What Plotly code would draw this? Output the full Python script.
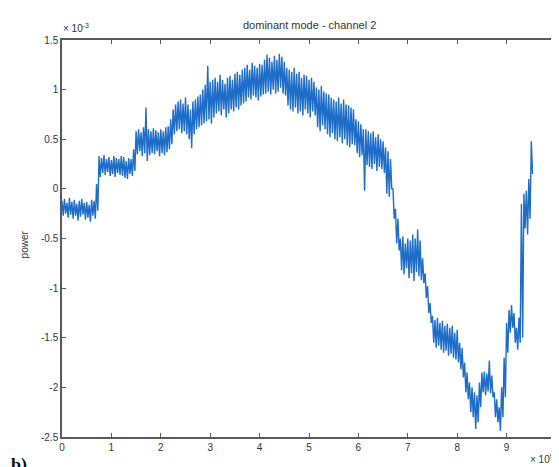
import numpy as np
import plotly.graph_objects as go

# Noise envelope every 0.05 (x10^5); power in units of 1e-3
x_step = 0.05
upper_values = [
    # 0.00 - 0.70
    -0.12, -0.10, -0.14, -0.09, -0.13, -0.11, -0.15, -0.12, -0.10, -0.14, -0.13, -0.16, -0.11, -0.12, 0.05,
    # 0.75 - 1.45
    0.33, 0.31, 0.34, 0.30, 0.32, 0.29, 0.33, 0.31, 0.30, 0.33, 0.32, 0.28, 0.31, 0.30, 0.40,
    # 1.50 - 2.20
    0.58, 0.60, 0.57, 0.62, 0.82, 0.60, 0.58, 0.61, 0.59, 0.57, 0.60, 0.58, 0.62, 0.63, 0.70,
    # 2.25 - 3.00
    0.80, 0.85, 0.88, 0.90, 0.86, 0.92, 0.85, 0.80, 0.88, 0.90, 0.93, 0.95, 1.00, 1.05, 1.24, 1.08,
    # 3.05 - 3.65
    1.10, 1.12, 1.08, 1.15, 1.10, 1.06, 1.12, 1.14, 1.10, 1.16, 1.18, 1.15, 1.20,
    # 3.70 - 4.05
    1.22, 1.25, 1.20, 1.27, 1.24, 1.22, 1.26, 1.25,
    # 4.10 - 4.50
    1.30, 1.35, 1.32, 1.28, 1.34, 1.30, 1.36, 1.33, 1.28,
    # 4.55 - 5.10
    1.22, 1.20, 1.18, 1.22, 1.16, 1.18, 1.12, 1.15, 1.14, 1.10, 1.12, 1.08,
    # 5.15 - 5.45
    1.02, 1.00, 1.04, 0.98, 0.96, 0.95, 0.92,
    # 5.50 - 5.90
    0.90, 0.88, 0.92, 0.86, 0.90, 0.85, 0.84, 0.82, 0.80,
    # 5.95 - 6.10
    0.70, 0.68, 0.65, 0.60,
    # 6.15 - 6.50
    0.60, 0.58, 0.56, 0.58, 0.52, 0.55, 0.50, 0.48,
    # 6.55 - 6.65
    0.42, 0.38, 0.30,
    # 6.70 - 6.80
    0.00, -0.20, -0.30,
    # 6.85 - 7.25
    -0.50, -0.48, -0.55, -0.50, -0.52, -0.46, -0.50, -0.41, -0.52,
    # 7.30 - 7.45
    -0.70, -0.85, -0.98, -1.15,
    # 7.50 - 8.05
    -1.28, -1.32, -1.30, -1.35, -1.33, -1.38, -1.36, -1.40, -1.38, -1.45, -1.42, -1.55,
    # 8.10 - 8.45
    -1.60, -1.75, -1.85, -1.95, -2.00, -2.05, -2.08, -1.95,
    # 8.50 - 8.70
    -1.85, -1.84, -1.86, -1.73, -1.88,
    # 8.75 - 8.90
    -2.05, -2.12, -2.20, -2.00,
    # 8.95 - 9.25
    -1.70, -1.35, -1.22, -1.17, -1.25, -1.40, -1.30,
    # 9.30 - 9.50
    -0.15, -0.05, -0.02, 0.10, 0.48,
]
lower_values = [
    # 0.00 - 0.70
    -0.27, -0.25, -0.29, -0.26, -0.30, -0.27, -0.32, -0.28, -0.26, -0.31, -0.29, -0.33, -0.27, -0.30, -0.22,
    # 0.75 - 1.45
    0.12, 0.16, 0.14, 0.17, 0.13, 0.15, 0.12, 0.16, 0.14, 0.13, 0.11, 0.10, 0.15, 0.13, 0.18,
    # 1.50 - 2.20
    0.35, 0.38, 0.33, 0.36, 0.28, 0.34, 0.36, 0.35, 0.38, 0.33, 0.36, 0.34, 0.37, 0.40, 0.45,
    # 2.25 - 3.00
    0.55, 0.58, 0.60, 0.56, 0.58, 0.55, 0.50, 0.41, 0.55, 0.60, 0.62, 0.64, 0.66, 0.68, 0.70, 0.66,
    # 3.05 - 3.65
    0.72, 0.76, 0.78, 0.74, 0.80, 0.72, 0.76, 0.80, 0.78, 0.82, 0.80, 0.84, 0.86,
    # 3.70 - 4.05
    0.88, 0.92, 0.90, 0.94, 0.92, 0.89, 0.93, 0.95,
    # 4.10 - 4.50
    0.96, 0.98, 0.95, 1.00, 0.96, 0.98, 1.02, 0.96, 0.94,
    # 4.55 - 5.10
    0.84, 0.80, 0.78, 0.82, 0.76, 0.78, 0.74, 0.80, 0.76, 0.72, 0.78, 0.74,
    # 5.15 - 5.45
    0.62, 0.58, 0.64, 0.60, 0.55, 0.52, 0.56,
    # 5.50 - 5.90
    0.50, 0.48, 0.52, 0.46, 0.50, 0.44, 0.42, 0.45, 0.44,
    # 5.95 - 6.10
    0.36, 0.32, 0.34, -0.02,
    # 6.15 - 6.50
    0.24, 0.22, 0.20, 0.25, 0.18, 0.22, 0.20, 0.16,
    # 6.55 - 6.65
    -0.05, -0.08, 0.00,
    # 6.70 - 6.80
    -0.30, -0.55, -0.62,
    # 6.85 - 7.25
    -0.82, -0.86, -0.80, -0.90, -0.85, -0.93, -0.84, -0.88, -0.92,
    # 7.30 - 7.45
    -0.95, -1.10, -1.25, -1.35,
    # 7.50 - 8.05
    -1.55, -1.60, -1.58, -1.62, -1.65, -1.63, -1.68, -1.66, -1.70, -1.72, -1.75, -1.82,
    # 8.10 - 8.45
    -1.90, -2.05, -2.12, -2.25, -2.30, -2.42, -2.35, -2.20,
    # 8.50 - 8.70
    -2.05, -2.08, -2.04, -2.06, -2.10,
    # 8.75 - 8.90
    -2.30, -2.35, -2.44, -2.30,
    # 8.95 - 9.25
    -2.10, -1.65, -1.45, -1.40, -1.55, -1.62, -1.55,
    # 9.30 - 9.50
    -1.50, -0.40, -0.46, -0.30, 0.15,
]

x_ticks = list(range(0, 11))
y_ticks = [-2.5, -2, -1.5, -1, -0.5, 0, 0.5, 1, 1.5]
y_tick_labels = ["-2.5", "-2", "-1.5", "-1", "-0.5", "0", "0.5", "1", "1.5"]

# signal trace: alternate between the upper and lower readings at each sample
n = len(upper_values)
x_sig, y_sig = [], []
for i in range(n):
    x_sig += [i * x_step, i * x_step + x_step / 2]
    y_sig += [upper_values[i], lower_values[i]]

FONT = "Liberation Sans, Arial, sans-serif"
AXC = "#5a5a5a"

fig = go.Figure()
fig.add_trace(go.Scatter(
    x=x_sig, y=y_sig, mode="lines",
    line=dict(color="#1c6cc8", width=1.4),
    showlegend=False, hoverinfo="skip",
))

axis_common = dict(
    showgrid=False, zeroline=False, showline=True, linecolor=AXC, linewidth=1.5,
    mirror="ticks", ticks="inside", ticklen=4, tickcolor=AXC, tickwidth=1,
    tickfont=dict(family=FONT, size=10, color="#333333"),
)

fig.update_layout(
    width=559, height=467,
    margin=dict(l=54, r=5, t=32, b=38),
    paper_bgcolor="white", plot_bgcolor="white",
    xaxis=dict(range=[0, 10], tickvals=x_ticks, ticktext=[str(t) for t in x_ticks], **axis_common),
    yaxis=dict(range=[-2.5, 1.5], tickvals=y_ticks, ticktext=y_tick_labels, **axis_common),
    annotations=[
        dict(text="dominant mode - channel 2", xref="paper", yref="paper",
             x=0.5, y=(429 - 17) / 397, xanchor="center", yanchor="middle",
             showarrow=False, font=dict(family=FONT, size=11, color="#333333")),
        dict(text="power", xref="paper", yref="paper",
             x=(16 - 54) / 499, y=(429 - 236) / 397, xanchor="center", yanchor="middle",
             textangle=-90, showarrow=False, font=dict(family=FONT, size=10, color="#333333")),
        dict(text="× 10<sup>-3</sup>", xref="paper", yref="paper",
             x=-0.002, y=(429 - 28) / 397, xanchor="left", yanchor="bottom",
             showarrow=False, font=dict(family=FONT, size=10, color="#333333")),
        dict(text="× 10<sup>5</sup>", xref="paper", yref="paper",
             x=1.0, y=(429 - 451) / 397, xanchor="right", yanchor="middle",
             showarrow=False, font=dict(family=FONT, size=10, color="#333333")),
        dict(text="<b>b)</b>", xref="paper", yref="paper",
             x=(0 - 54) / 499, y=(429 - 445) / 397, xanchor="left", yanchor="top",
             showarrow=False, font=dict(family="Liberation Serif, serif", size=18, color="#111111")),
    ],
)

fig.write_html("out.html")
